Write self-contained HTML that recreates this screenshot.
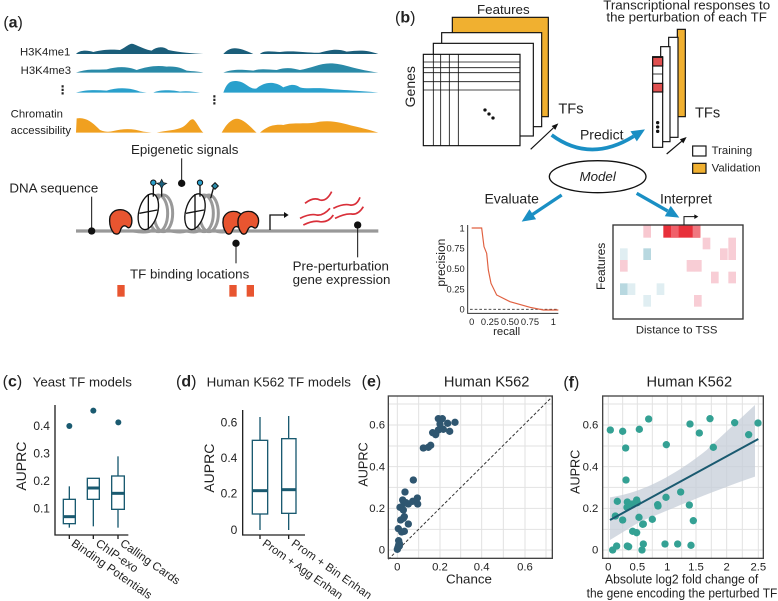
<!DOCTYPE html>
<html><head><meta charset="utf-8"><style>
html,body{margin:0;padding:0;background:#fff}
svg{display:block}
text{font-family:"Liberation Sans","DejaVu Sans",sans-serif;fill:#222}
</style></head><body>
<svg width="778" height="601" viewBox="0 0 778 601" xmlns="http://www.w3.org/2000/svg">

<!-- PANEL A -->
<g transform="scale(0.33333)">
<text x="10" y="82" font-size="48">(<tspan font-weight="bold">a</tspan>)</text>
<text x="60" y="166" font-size="34">H3K4me1</text>
<text x="62" y="222" font-size="34">H3K4me3</text>
<text x="170" y="282" font-size="36" font-weight="bold">⋮</text>
<text x="625" y="312" font-size="36" font-weight="bold">⋮</text>
<text x="32" y="352" font-size="34">Chromatin</text>
<text x="32" y="402" font-size="34">accessibility</text>
<path fill="#1b5e7a" d="M228 162 C240 150 260 150 280 156 C310 148 340 148 360 150 C380 140 390 128 400 132 C420 140 440 150 455 152 C470 140 490 138 505 150 C540 158 580 160 610 162 Z M670 162 C690 140 710 138 760 162 Z M780 162 C790 150 820 155 840 156 C880 150 930 160 960 158 C990 150 1010 145 1040 155 C1080 150 1100 150 1135 162 Z"/>
<path fill="#2a8aa8" d="M228 218 C260 205 290 210 320 208 C350 200 380 198 410 210 C440 200 470 195 500 200 C530 198 545 205 560 212 C580 214 600 215 610 218 Z M670 218 C700 205 740 210 760 212 C780 205 800 208 830 210 C860 200 880 205 900 210 C930 205 960 190 990 190 C1030 190 1050 205 1135 218 Z"/>
<path fill="#2aa0cc" d="M228 278 C260 268 290 270 320 272 C350 262 390 262 420 275 L440 278 Z M460 278 C480 268 520 270 540 275 C560 272 580 275 600 278 Z M670 278 C680 250 690 238 720 245 C740 250 750 270 770 265 C790 248 820 240 850 262 C870 255 880 250 900 262 C920 268 950 262 980 266 C1020 270 1080 272 1135 278 Z"/>
<path fill="#f0a020" d="M228 398 L230 355 C260 350 280 370 300 390 C320 398 330 395 340 393 C370 385 400 385 430 395 L455 398 Z M470 398 C500 390 530 392 550 380 C565 370 570 355 580 358 C590 365 600 390 610 398 Z M665 398 C680 370 700 350 720 358 C740 365 760 390 770 398 Z M780 398 C800 380 820 372 850 375 C880 365 920 375 960 365 C1000 360 1030 370 1060 378 C1090 385 1110 390 1135 398 Z"/>
<text x="393" y="462" font-size="40">Epigenetic signals</text>
<text x="28" y="578" font-size="40">DNA sequence</text>
<text x="390" y="835" font-size="40">TF binding locations</text>
<text x="878" y="812" font-size="40">Pre-perturbation</text>
<text x="878" y="852" font-size="40">gene expression</text>
<line x1="228" y1="693" x2="1135" y2="693" stroke="#999" stroke-width="10"/>
<g fill="none" stroke="#999" stroke-width="9">
<ellipse cx="475" cy="640" rx="28" ry="55"/><ellipse cx="490" cy="640" rx="28" ry="55"/>
<ellipse cx="612" cy="640" rx="28" ry="55"/><ellipse cx="627" cy="640" rx="28" ry="55"/>
<path d="M400 693 Q440 700 460 690 M500 690 Q540 700 560 693 Q590 700 600 690 M640 690 Q660 700 690 693"/>
</g>
<g stroke="#111" stroke-width="4" fill="#fff">
<ellipse cx="445" cy="635" rx="28" ry="55" transform="rotate(15 445 635)"/>
<line x1="418" y1="640" x2="472" y2="630"/><line x1="445" y1="582" x2="445" y2="688"/>
<ellipse cx="585" cy="635" rx="28" ry="55" transform="rotate(15 585 635)"/>
<line x1="558" y1="640" x2="612" y2="630"/><line x1="585" y1="582" x2="585" y2="688"/>
<line x1="460" y1="555" x2="460" y2="590"/><line x1="485" y1="555" x2="485" y2="590"/>
<line x1="600" y1="555" x2="600" y2="590"/><line x1="640" y1="565" x2="632" y2="595"/>
</g>
<circle cx="460" cy="548" r="8" fill="#2aa0cc" stroke="#111" stroke-width="3"/>
<circle cx="600" cy="548" r="8" fill="#2aa0cc" stroke="#111" stroke-width="3"/>
<path d="M485 538 L490 548 L500 550 L490 556 L485 566 L480 556 L470 550 L480 548Z" fill="#1b5e7a" stroke="#111" stroke-width="2"/>
<path d="M645 548 L655 558 L645 568 L635 558Z" fill="#2a8aa8" stroke="#111" stroke-width="3"/>
<g fill="#e85530" stroke="#111" stroke-width="4">
<path d="M330 650 Q340 625 370 630 Q400 640 395 670 Q390 690 380 680 Q370 672 362 688 Q358 708 342 700 Q325 680 330 650Z"/>
<path d="M670 655 Q680 630 710 635 Q735 645 730 670 Q725 690 715 682 Q705 675 698 690 Q692 708 680 700 Q665 680 670 655Z"/>
<path d="M715 655 Q725 630 755 635 Q780 645 775 670 Q770 690 760 682 Q750 675 743 690 Q737 708 725 700 Q710 680 715 655Z"/>
</g>
<path d="M810 690 V645 H855" fill="none" stroke="#111" stroke-width="4"/>
<path d="M852 636 L866 645 L852 654Z" fill="#111"/>
<g fill="none" stroke="#d9303a" stroke-width="5">
<path d="M915 610 Q940 590 960 600 Q980 605 995 575"/>
<path d="M900 655 Q930 640 950 645 Q970 648 990 625"/>
<path d="M910 675 Q940 660 960 665 Q985 668 1000 645"/>
<path d="M1000 625 Q1030 610 1050 615 Q1070 618 1080 592"/>
<path d="M1005 655 Q1035 640 1055 642 Q1075 645 1090 620"/>
</g>
<g stroke="#111" stroke-width="3">
<line x1="275" y1="693" x2="275" y2="590"/><line x1="545" y1="550" x2="545" y2="475"/>
<line x1="708" y1="730" x2="708" y2="790"/><line x1="1073" y1="675" x2="1073" y2="772"/>
</g>
<g fill="#111"><circle cx="275" cy="693" r="11"/><circle cx="545" cy="550" r="11"/><circle cx="708" cy="730" r="11"/><circle cx="1073" cy="675" r="11"/></g>
<g fill="#e85530"><rect x="352" y="855" width="22" height="35"/><rect x="688" y="855" width="22" height="35"/><rect x="740" y="855" width="22" height="35"/></g>
</g>

<!-- PANEL B -->
<g transform="translate(390,0) scale(0.33333)">
<text x="15" y="68" font-size="48">(<tspan font-weight="bold">b</tspan>)</text>
<text x="340" y="42" font-size="40" text-anchor="middle">Features</text>
<text x="890" y="28" font-size="40" text-anchor="middle">Transcriptional responses to</text>
<text x="890" y="64" font-size="40" text-anchor="middle">the perturbation of each TF</text>
<g stroke="#111" stroke-width="3.5">
<rect x="187" y="52" width="288" height="298" fill="#f0b030"/>
<rect x="155" y="98" width="300" height="282" fill="#fff"/>
<rect x="130" y="130" width="300" height="278" fill="#fff"/>
<rect x="100" y="163" width="290" height="274" fill="#fff"/>
<path d="M130 163V437M152 163V437M178 163V437M205 163V437M100 186H390M100 203H390M100 218H390M100 245H390M100 270H390" stroke-width="2.5"/>
</g>
<g fill="#111"><circle cx="285" cy="330" r="5"/><circle cx="297" cy="342" r="5"/><circle cx="309" cy="354" r="5"/></g>
<text x="0" y="0" font-size="42" transform="translate(75,322) rotate(-90)">Genes</text>
<line x1="422" y1="448" x2="490" y2="384" stroke="#111" stroke-width="3.5"/>
<polygon points="505,370 495.9,389.5 484.9,377.9" fill="#111"/>
<text x="505" y="340" font-size="44">TFs</text>
<path d="M485 405 Q600 490 731 409" fill="none" stroke="#1a8fc4" stroke-width="11"/>
<polygon points="765,388 740.5,424.3 721.5,393.7" fill="#1a8fc4"/>
<text x="570" y="418" font-size="42">Predict</text>
<g stroke="#111" stroke-width="3.5">
<rect x="862" y="88" width="24" height="262" fill="#f0b030"/>
<rect x="836" y="112" width="28" height="300" fill="#fff"/>
<rect x="812" y="140" width="28" height="285" fill="#fff"/>
<rect x="788" y="170" width="30" height="272" fill="#fff"/>
<rect x="788" y="172" width="30" height="26" fill="#e05050"/>
<rect x="788" y="250" width="30" height="26" fill="#e05050"/>
<path d="M788 222H818" stroke-width="2.5"/>
</g>
<g fill="#111"><circle cx="803" cy="368" r="5"/><circle cx="803" cy="381" r="5"/><circle cx="803" cy="394" r="5"/></g>
<line x1="830" y1="462" x2="875" y2="424" stroke="#111" stroke-width="3.5"/>
<polygon points="890,411 880,430.1 869.6,417.9" fill="#111"/>
<text x="915" y="352" font-size="44">TFs</text>
<rect x="908" y="438" width="40" height="30" fill="#fff" stroke="#111" stroke-width="3.5"/>
<text x="965" y="462" font-size="34">Training</text>
<rect x="908" y="490" width="40" height="30" fill="#f0b030" stroke="#111" stroke-width="3.5"/>
<text x="965" y="514" font-size="34">Validation</text>
<ellipse cx="623" cy="530" rx="145" ry="48" fill="#fff" stroke="#111" stroke-width="4"/>
<text x="623" y="543" font-size="40" font-style="italic" text-anchor="middle">Model</text>
<text x="365" y="610" font-size="42" text-anchor="middle">Evaluate</text>
<text x="888" y="610" font-size="42" text-anchor="middle">Interpret</text>
<line x1="515" y1="585" x2="428" y2="643" stroke="#1a8fc4" stroke-width="10"/>
<polygon points="395,665 438.3,657.8 418.3,627.8" fill="#1a8fc4"/>
<line x1="740" y1="580" x2="833" y2="633" stroke="#1a8fc4" stroke-width="10"/>
<polygon points="868,653 824.4,648.7 842.2,617.5" fill="#1a8fc4"/>
<!-- PR plot -->
<path d="M233 675V940H505" fill="none" stroke="#333" stroke-width="3"/>
<g font-size="28" text-anchor="end"><text x="224" y="694">1</text><text x="224" y="754">0.75</text><text x="224" y="816">0.50</text><text x="224" y="877">0.25</text><text x="224" y="938">0</text></g>
<g font-size="28" text-anchor="middle"><text x="245" y="975">0</text><text x="300" y="975">0.25</text><text x="360" y="975">0.50</text><text x="420" y="975">0.75</text><text x="490" y="975">1</text></g>
<text x="0" y="0" font-size="36" transform="translate(165,860) rotate(-90)">precision</text>
<text x="350" y="1005" font-size="34" text-anchor="middle">recall</text>
<line x1="240" y1="928" x2="505" y2="928" stroke="#333" stroke-width="2.5" stroke-dasharray="8 6"/>
<path d="M245 684 L275 684 L282 740 L290 760 L295 810 L303 850 L320 885 L360 905 L420 922 L460 930 L505 930" fill="none" stroke="#e06040" stroke-width="3.5"/>
<!-- heatmap -->
<g>
<rect x="669" y="675" width="390" height="282" fill="#fff"/>
<rect x="820" y="675" width="111" height="38" fill="#e8303a"/>
<rect x="843" y="675" width="23" height="38" fill="#f0606a"/>
<rect x="908" y="675" width="23" height="38" fill="#f07880"/>
<rect x="760" y="675" width="23" height="38" fill="#f8c8d0"/>
<g fill="#f8cdd5"><rect x="1015" y="713" width="23" height="35"/><rect x="890" y="780" width="23" height="35"/><rect x="912" y="780" width="23" height="35"/><rect x="963" y="815" width="23" height="35"/><rect x="1015" y="815" width="23" height="35"/><rect x="912" y="885" width="23" height="35"/><rect x="690" y="780" width="23" height="35"/><rect x="990" y="745" width="23" height="35"/><rect x="1015" y="745" width="23" height="35"/><rect x="938" y="713" width="23" height="35"/></g>
<g fill="#b8d8e0"><rect x="690" y="850" width="23" height="35"/><rect x="760" y="745" width="23" height="35"/></g>
<g fill="#e0eef2"><rect x="713" y="850" width="23" height="35"/><rect x="690" y="745" width="23" height="35"/><rect x="800" y="850" width="23" height="35"/><rect x="760" y="885" width="23" height="35"/></g>
<rect x="669" y="675" width="390" height="282" fill="none" stroke="#333" stroke-width="4"/>
<path d="M882 675 V650 H915" fill="none" stroke="#111" stroke-width="3"/>
<path d="M913 643 L925 650 L913 657Z" fill="#111"/>
</g>
<text x="0" y="0" font-size="36" transform="translate(645,870) rotate(-90)">Features</text>
<text x="860" y="1000" font-size="34" text-anchor="middle">Distance to TSS</text>
</g>

<!-- PANEL C, D, E-label -->
<g transform="translate(0,330) scale(0.33333)">
<text x="8" y="170" font-size="48">(<tspan font-weight="bold">c</tspan>)</text>
<text x="98" y="170" font-size="40">Yeast TF models</text>
<path d="M165 225V615H385" fill="none" stroke="#222" stroke-width="4"/>
<g font-size="36" text-anchor="end"><text x="150" y="300">0.4</text><text x="150" y="382">0.3</text><text x="150" y="465">0.2</text><text x="150" y="547">0.1</text></g>
<text x="0" y="0" font-size="42" transform="translate(78,482) rotate(-90)">AUPRC</text>
<g stroke="#1a5a70" stroke-width="4" fill="none">
<line x1="208" y1="593" x2="208" y2="469"/><rect x="190" y="508" width="36" height="73" fill="#fff"/><line x1="190" y1="560" x2="226" y2="560" stroke-width="9"/>
<line x1="280" y1="589" x2="280" y2="508"/><rect x="262" y="445" width="36" height="63" fill="#fff"/><line x1="262" y1="474" x2="298" y2="474" stroke-width="9"/>
<line x1="354" y1="593" x2="354" y2="379"/><rect x="335" y="438" width="38" height="100" fill="#fff"/><line x1="335" y1="490" x2="373" y2="490" stroke-width="9"/>
<path d="M208 615v12M280 615v12M354 615v12" stroke="#222"/>
</g>
<g fill="#1a5a70"><circle cx="208" cy="288" r="9"/><circle cx="280" cy="242" r="9"/><circle cx="355" cy="277" r="9"/></g>
<g font-size="35"><text transform="translate(212,645) rotate(35)" textLength="285">Binding Potentials</text><text transform="translate(285,645) rotate(35)">ChIP-exo</text><text transform="translate(358,645) rotate(35)">Calling Cards</text></g>

<text x="528" y="170" font-size="48">(<tspan font-weight="bold">d</tspan>)</text>
<text x="620" y="170" font-size="40">Human K562 TF models</text>
<path d="M728 240V615H915" fill="none" stroke="#222" stroke-width="4"/>
<g font-size="36" text-anchor="end"><text x="712" y="289">0.6</text><text x="712" y="396">0.4</text><text x="712" y="503">0.2</text><text x="712" y="612">0</text></g>
<text x="0" y="0" font-size="42" transform="translate(642,488) rotate(-90)">AUPRC</text>
<g stroke="#1a5a70" stroke-width="4" fill="none">
<line x1="780" y1="600" x2="780" y2="261"/><rect x="757" y="331" width="46" height="221" fill="#fff"/><line x1="757" y1="482" x2="803" y2="482" stroke-width="9"/>
<line x1="866" y1="600" x2="866" y2="258"/><rect x="845" y="326" width="43" height="224" fill="#fff"/><line x1="845" y1="479" x2="888" y2="479" stroke-width="9"/>
<path d="M780 615v12M866 615v12" stroke="#222"/>
</g>
<g font-size="34"><text transform="translate(785,645) rotate(35)" textLength="285">Prom + Agg Enhan</text><text transform="translate(872,645) rotate(35)" textLength="285">Prom + Bin Enhan</text></g>
<text x="1085" y="170" font-size="48">(<tspan font-weight="bold">e</tspan>)</text>
</g>

<!-- PANEL E, F -->
<g transform="translate(390,330) scale(0.33333)">
<text x="290" y="170" font-size="44" text-anchor="middle">Human K562</text>
<g stroke="#e2e2e2" stroke-width="3">
<path d="M22 198V685M86 198V685M150 198V685M212 198V685M275 198V685M340 198V685M405 198V685M468 198V685"/>
<path d="M-5 660H487M-5 598H487M-5 535H487M-5 472H487M-5 410H487M-5 348H487M-5 285H487M-5 222H487"/>
<path d="M655 198V685M698 198V685M742 198V685M787 198V685M832 198V685M875 198V685M918 198V685M964 198V685M1010 198V685M1057 198V685M1105 198V685"/>
<path d="M638 660H1120M638 598H1120M638 535H1120M638 472H1120M638 410H1120M638 348H1120M638 285H1120M638 222H1120"/>
</g>
<line x1="-5" y1="688" x2="487" y2="200" stroke="#333" stroke-width="3" stroke-dasharray="9 6"/>
<g fill="#2f5670">
<circle cx="145" cy="266" r="11"/><circle cx="157" cy="266" r="11"/><circle cx="150" cy="282" r="11"/><circle cx="173" cy="280" r="11"/><circle cx="195" cy="277" r="11"/><circle cx="128" cy="308" r="11"/><circle cx="137" cy="314" r="11"/><circle cx="145" cy="300" r="11"/><circle cx="160" cy="298" r="11"/><circle cx="179" cy="304" r="11"/><circle cx="100" cy="354" r="11"/><circle cx="115" cy="352" r="11"/><circle cx="122" cy="346" r="11"/><circle cx="70" cy="450" r="11"/><circle cx="45" cy="486" r="11"/><circle cx="38" cy="510" r="11"/><circle cx="42" cy="520" r="11"/><circle cx="48" cy="518" r="11"/><circle cx="55" cy="522" r="11"/><circle cx="68" cy="514" r="11"/><circle cx="82" cy="504" r="11"/><circle cx="83" cy="522" r="11"/><circle cx="30" cy="532" r="11"/><circle cx="40" cy="540" r="11"/><circle cx="43" cy="560" r="11"/><circle cx="40" cy="565" r="11"/><circle cx="32" cy="570" r="11"/><circle cx="55" cy="582" r="11"/><circle cx="25" cy="596" r="11"/><circle cx="35" cy="606" r="11"/><circle cx="43" cy="604" r="11"/><circle cx="26" cy="632" r="11"/><circle cx="28" cy="640" r="11"/><circle cx="26" cy="645" r="11"/><circle cx="24" cy="652" r="11"/><circle cx="22" cy="658" r="11"/><circle cx="28" cy="648" r="11"/>
</g>
<rect x="-5" y="198" width="492" height="487" fill="none" stroke="#444" stroke-width="4"/>
<g font-size="34" text-anchor="end"><text x="-15" y="296">0.6</text><text x="-15" y="421">0.4</text><text x="-15" y="546">0.2</text><text x="-15" y="671">0</text></g>
<g font-size="34" text-anchor="middle"><text x="22" y="722">0</text><text x="150" y="722">0.2</text><text x="275" y="722">0.4</text><text x="405" y="722">0.6</text></g>
<text x="0" y="0" font-size="38" transform="translate(-68,470) rotate(-90)">AUPRC</text>
<text x="237" y="760" font-size="40" text-anchor="middle">Chance</text>

<text x="520" y="172" font-size="48">(<tspan font-weight="bold">f</tspan>)</text>
<text x="898" y="170" font-size="44" text-anchor="middle">Human K562</text>
<path d="M660 502 C750 490 850 440 950 360 L1095 225 L1095 440 C950 490 850 535 750 575 L660 630Z" fill="#c5ced8" opacity="0.75"/>
<g fill="#2a9d8f" opacity="0.95">
<circle cx="661" cy="300" r="11"/><circle cx="698" cy="304" r="11"/><circle cx="707" cy="354" r="11"/><circle cx="748" cy="298" r="11"/><circle cx="776" cy="267" r="11"/><circle cx="829" cy="344" r="11"/><circle cx="900" cy="282" r="11"/><circle cx="928" cy="309" r="11"/><circle cx="960" cy="266" r="11"/><circle cx="1034" cy="278" r="11"/><circle cx="1076" cy="314" r="11"/><circle cx="1104" cy="279" r="11"/><circle cx="970" cy="352" r="11"/><circle cx="708" cy="450" r="11"/><circle cx="682" cy="514" r="11"/><circle cx="712" cy="516" r="11"/><circle cx="740" cy="510" r="11"/><circle cx="742" cy="518" r="11"/><circle cx="711" cy="532" r="11"/><circle cx="747" cy="562" r="11"/><circle cx="698" cy="570" r="11"/><circle cx="760" cy="582" r="11"/><circle cx="803" cy="524" r="11"/><circle cx="804" cy="528" r="11"/><circle cx="828" cy="502" r="11"/><circle cx="872" cy="486" r="11"/><circle cx="898" cy="525" r="11"/><circle cx="910" cy="572" r="11"/><circle cx="728" cy="604" r="11"/><circle cx="740" cy="608" r="11"/><circle cx="758" cy="583" r="11"/><circle cx="787" cy="568" r="11"/><circle cx="680" cy="648" r="11"/><circle cx="712" cy="648" r="11"/><circle cx="716" cy="650" r="11"/><circle cx="760" cy="642" r="11"/><circle cx="825" cy="642" r="11"/><circle cx="863" cy="642" r="11"/><circle cx="903" cy="646" r="11"/><circle cx="668" cy="660" r="11"/><circle cx="756" cy="660" r="11"/><circle cx="676" cy="558" r="11"/><circle cx="727" cy="522" r="11"/>
</g>
<line x1="660" y1="570" x2="1105" y2="327" stroke="#1a5a70" stroke-width="6"/>
<rect x="638" y="198" width="482" height="487" fill="none" stroke="#444" stroke-width="4"/>
<g font-size="34" text-anchor="end"><text x="625" y="296">0.6</text><text x="625" y="421">0.4</text><text x="625" y="546">0.2</text><text x="625" y="671">0</text></g>
<g font-size="34" text-anchor="middle"><text x="655" y="722">0</text><text x="742" y="722">0.5</text><text x="832" y="722">1</text><text x="918" y="722">1.5</text><text x="1010" y="722">2</text><text x="1105" y="722">2.5</text></g>
<text x="0" y="0" font-size="38" transform="translate(568,492) rotate(-90)">AUPRC</text>
<text x="645" y="760" font-size="38" textLength="460" lengthAdjust="spacingAndGlyphs">Absolute log2 fold change of</text>
<text x="590" y="803" font-size="38" textLength="572" lengthAdjust="spacingAndGlyphs">the gene encoding the perturbed TF</text>
</g>
</svg>
</body></html>
